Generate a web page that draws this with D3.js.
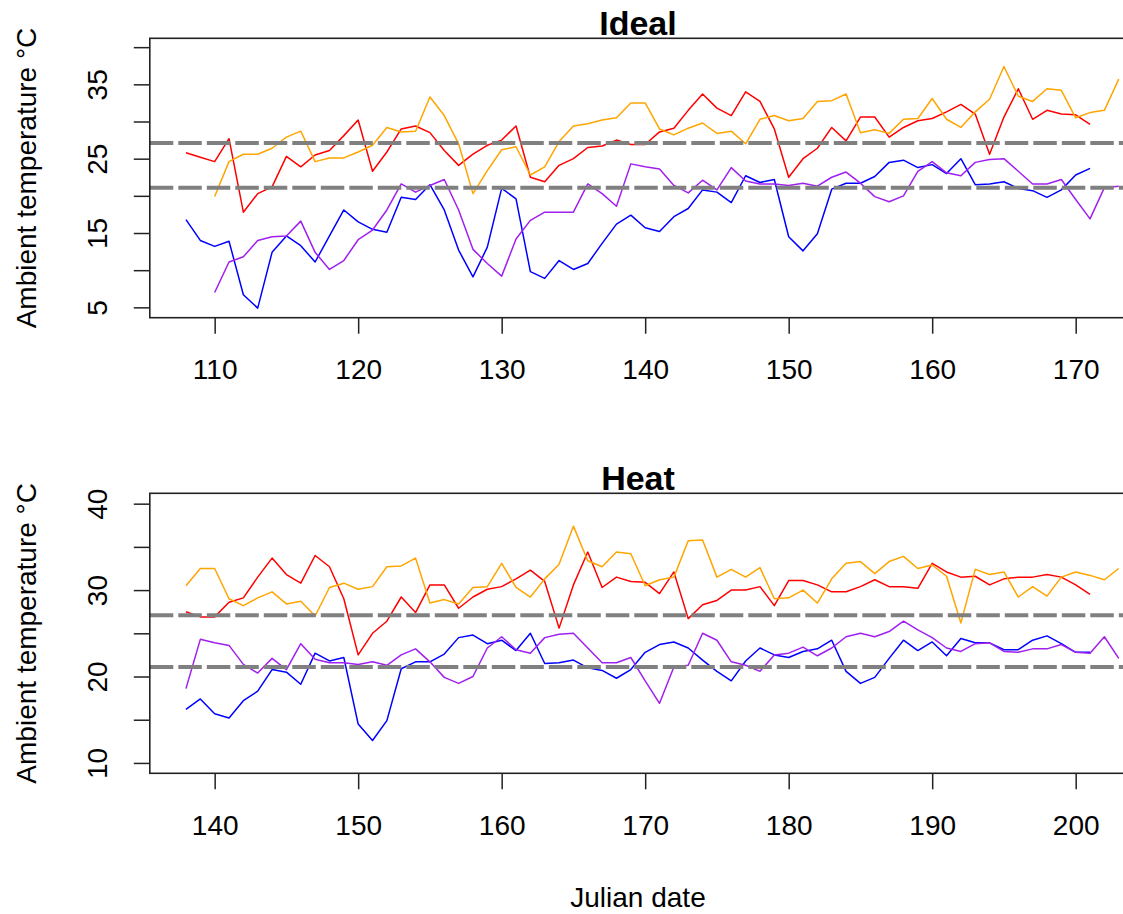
<!DOCTYPE html>
<html>
<head>
<meta charset="utf-8">
<script src="https://cdn.jsdelivr.net/npm/d3@7"></script>
<style>
  html, body { margin: 0; padding: 0; background: #fff; }
  svg { display: block; font-family: "Liberation Sans", Arial, sans-serif; }
</style>
</head>
<body>
<svg id="chart" width="1123" height="914"></svg>
<script>
// Daily ambient temperature (°C) per logger, by Julian date
const redStart = 108;
const redTemp = [
  25.8, 25.2, 24.6, 27.7, 17.8, 20.3, 21.2, 25.3, 23.9, 25.5,   // 108-117
  26.1, 28.1, 30.2, 23.3, 25.9, 29.0, 29.4, 28.5, 26.1, 24.1,   // 118-127
  25.6, 26.8, 27.5, 29.4, 22.5, 21.9, 24.1, 25.0, 26.5, 26.7,   // 128-137
  27.5, 26.9, 26.9, 28.6, 29.1, 31.5, 33.7, 31.8, 30.8, 34.0,   // 138-147
  32.7, 29.0, 22.5, 25.0, 26.4, 29.2, 27.4, 30.6, 30.6, 27.9,   // 148-157
  29.2, 30.1, 30.4, 31.3, 32.3, 31.0, 25.6, 30.6, 34.4, 30.3,   // 158-167
  31.5, 31.0, 30.9, 29.6, 32.1, 26.7, 28.3, 28.8, 30.0, 30.0,   // 168-177
  30.4, 28.2, 31.1, 31.1, 30.6, 29.8, 29.8, 30.4, 31.2, 30.4,   // 178-187
  30.4, 30.2, 33.1, 32.1, 31.5, 31.6, 30.6, 31.3, 31.5, 31.5,   // 188-197
  31.8, 31.5, 30.6, 29.5                                        // 198-201
];

const orangeStart = 110;
const orangeTemp = [
  19.9, 24.6, 25.6, 25.6, 26.4, 27.9, 28.7, 24.6, 25.1, 25.1,   // 110-119
  25.9, 26.8, 29.2, 28.6, 28.7, 33.3, 30.8, 27.0, 20.3, 23.4,   // 120-129
  26.2, 26.6, 22.8, 23.9, 27.3, 29.4, 29.7, 30.2, 30.5, 32.5,   // 130-139
  32.5, 29.0, 28.2, 29.1, 29.8, 28.4, 28.7, 27.0, 30.3, 30.8,   // 140-149
  30.1, 30.4, 32.7, 32.8, 33.7, 28.5, 28.9, 28.4, 30.3, 30.4,   // 150-159
  33.1, 30.3, 29.2, 31.3, 33.0, 37.4, 33.4, 32.7, 34.4, 34.2,   // 160-169
  30.5, 31.2, 31.5, 35.7, 35.8, 31.5, 32.4, 31.5, 32.6, 29.0,   // 170-179
  29.1, 30.0, 28.5, 31.3, 33.1, 33.3, 31.9, 33.3, 33.9, 32.5,   // 180-189
  32.9, 31.6, 26.2, 32.4, 31.8, 32.1, 29.2, 30.4, 29.3, 31.5,   // 190-199
  32.1, 31.7, 31.2, 32.5                                        // 200-203
];

const blueStart = 108;
const blueTemp = [
  16.8, 14.0, 13.2, 13.9, 6.7, 4.9, 12.4, 14.6, 13.3, 11.1,     // 108-117
  14.6, 18.1, 16.5, 15.5, 15.1, 19.8, 19.5, 21.5, 18.1, 12.7,   // 118-127
  9.1, 13.1, 21.0, 19.6, 9.8, 8.9, 11.3, 10.1, 10.9, 13.6,      // 128-137
  16.2, 17.4, 15.7, 15.2, 17.2, 18.3, 20.8, 20.5, 19.1, 22.7,   // 138-147
  21.8, 22.2, 14.5, 12.6, 14.9, 20.9, 21.7, 21.7, 22.6, 24.5,   // 148-157
  24.8, 23.8, 24.2, 23.0, 25.0, 21.5, 21.6, 21.9, 21.0, 20.7,   // 158-167
  19.8, 20.8, 22.8, 23.7, 24.0, 23.3, 21.9, 20.6, 19.5, 21.8,   // 168-177
  23.3, 22.5, 22.2, 22.9, 23.2, 24.2, 20.6, 19.2, 19.9, 22.1,   // 178-187
  24.2, 23.0, 24.0, 22.4, 24.4, 23.9, 23.9, 23.1, 23.1, 24.2,   // 188-197
  24.7, 23.8, 22.8, 22.8                                        // 198-201
];

const purpleStart = 110;
const purpleTemp = [
  7.0, 11.1, 11.8, 14.0, 14.5, 14.6, 16.6, 12.4, 10.1, 11.3,    // 110-119
  14.1, 15.4, 18.1, 21.6, 20.5, 21.4, 22.2, 18.1, 12.8, 10.9,   // 120-129
  9.2, 14.2, 16.7, 17.8, 17.8, 17.8, 21.6, 20.3, 18.6, 24.3,    // 130-139
  23.9, 23.6, 21.4, 20.4, 22.1, 20.8, 23.8, 22.0, 21.6, 21.6,   // 140-149
  21.4, 21.7, 21.3, 22.5, 23.2, 21.7, 19.9, 19.2, 20.0, 23.3,   // 150-159
  24.6, 23.1, 22.7, 24.5, 24.9, 25.0, 23.3, 21.6, 21.6, 22.2,   // 160-169
  19.5, 16.9, 21.1, 21.3, 25.0, 24.2, 21.7, 21.3, 20.6, 22.5,   // 170-179
  22.7, 23.4, 22.4, 23.3, 24.6, 25.0, 24.6, 25.2, 26.4, 25.4,   // 180-189
  24.5, 23.3, 22.9, 23.8, 23.9, 22.9, 22.8, 23.2, 23.2, 23.7,   // 190-199
  22.8, 22.7, 24.6, 22.1                                        // 200-203
];

// Reference temperatures drawn as dashed lines
const thresholds = [27.1, 21.1];

// Panels
const panelTitles = ["Ideal", "Heat"];
const panelDataRangeX = [[108, 171], [138, 201]];
const panelDataRangeY = [[5, 39.8], [10, 40]];
const panelXTicks = [[110, 120, 130, 140, 150, 160, 170], [140, 150, 160, 170, 180, 190, 200]];
const panelYTicks = [[5, 10, 15, 20, 25, 30, 35, 40], [10, 15, 20, 25, 30, 35, 40]];
const panelYLabels = [[5, 15, 25, 35], [10, 20, 30, 40]];
// Date window shown for each series in each panel: [red, orange, blue, purple]
const panelWindows = [
  [[108, 171], [110, 173], [108, 171], [110, 173]],
  [[138, 201], [138, 203], [138, 201], [138, 203]]
];

const seriesNames = ["red", "orange", "blue", "purple"];
const seriesColors = ["#ff0000", "#ffa500", "#0000ff", "#a020f0"];
const seriesStarts = [redStart, orangeStart, blueStart, purpleStart];
const seriesValues = [redTemp, orangeTemp, blueTemp, purpleTemp];

const yAxisTitle = "Ambient temperature °C";
const xAxisTitle = "Julian date";

// ---- layout ----
const svg = d3.select("#chart");
svg.append("rect").attr("width", 1123).attr("height", 914).attr("fill", "#fff");

const plotLeft = 149.8, plotRight = 1126.2;
const panelBands = [[38.3, 317.7], [493.3, 773.3]];
const fontSize = 28;
const tickLen = 16;

// R-style 4% axis padding
const pad = r => { const d = (r[1] - r[0]) * 0.04; return [r[0] - d, r[1] + d]; };

panelTitles.forEach((title, p) => {
  const [top, bottom] = panelBands[p];
  const x = d3.scaleLinear().domain(pad(panelDataRangeX[p])).range([plotLeft, plotRight]);
  const y = d3.scaleLinear().domain(pad(panelDataRangeY[p])).range([bottom, top]);

  const g = svg.append("g");
  const clipId = "clip" + p;
  g.append("clipPath").attr("id", clipId)
    .append("rect").attr("x", plotLeft).attr("y", top)
    .attr("width", plotRight - plotLeft).attr("height", bottom - top);

  const plot = g.append("g").attr("clip-path", `url(#${clipId})`);

  // temperature series
  const line = d3.line().x(d => x(d.day)).y(d => y(d.temp));
  seriesNames.forEach((name, s) => {
    const [from, to] = panelWindows[p][s];
    const pts = seriesValues[s]
      .map((v, i) => ({ day: seriesStarts[s] + i, temp: v }))
      .filter(d => d.day >= from && d.day <= to);
    plot.append("path")
      .datum(pts)
      .attr("class", "series-" + name)
      .attr("fill", "none")
      .attr("stroke", seriesColors[s])
      .attr("stroke-width", 1.5)
      .attr("stroke-linejoin", "round")
      .attr("d", line);
  });

  // dashed reference lines
  thresholds.forEach(t => {
    plot.append("line")
      .attr("x1", plotLeft).attr("x2", plotRight)
      .attr("y1", y(t)).attr("y2", y(t))
      .attr("stroke", "#808080")
      .attr("stroke-width", 4)
      .attr("stroke-dasharray", "23.5 5")
      .attr("stroke-dashoffset", 0);
  });

  // x axis
  const xAxis = d3.axisBottom(x).tickValues(panelXTicks[p]).tickSize(tickLen).tickSizeOuter(0)
    .tickFormat(d3.format("d"));
  const gx = g.append("g").attr("transform", `translate(0,${bottom})`).call(xAxis);
  gx.select(".domain").remove();
  gx.selectAll(".tick line").attr("stroke", "#222").attr("stroke-width", 1.5);
  gx.selectAll(".tick text")
    .attr("y", 61.5).attr("dy", null)
    .attr("fill", "#000")
    .style("font-size", fontSize + "px")
    .style("font-family", '"Liberation Sans", Arial, sans-serif');

  // y axis
  const labels = panelYLabels[p];
  const yAxis = d3.axisLeft(y).tickValues(panelYTicks[p]).tickSize(tickLen).tickSizeOuter(0)
    .tickFormat(d => labels.includes(d) ? String(d) : "");
  const gy = g.append("g").attr("transform", `translate(${plotLeft},0)`).call(yAxis);
  gy.select(".domain").remove();
  gy.selectAll(".tick line").attr("stroke", "#222").attr("stroke-width", 1.5);
  gy.selectAll(".tick text")
    .attr("x", 0).attr("y", -42.8).attr("dy", null)
    .attr("transform", "rotate(-90)")
    .attr("text-anchor", "middle")
    .attr("fill", "#000")
    .style("font-size", fontSize + "px")
    .style("font-family", '"Liberation Sans", Arial, sans-serif');

  // frame
  g.append("rect")
    .attr("x", plotLeft).attr("y", top)
    .attr("width", plotRight - plotLeft).attr("height", bottom - top)
    .attr("fill", "none").attr("stroke", "#222").attr("stroke-width", 1.6);

  // panel title
  g.append("text")
    .attr("x", (plotLeft + plotRight) / 2).attr("y", top - 3.5)
    .attr("text-anchor", "middle")
    .attr("font-weight", "bold")
    .attr("font-size", 34)
    .attr("fill", "#000")
    .text(title);

  // y axis title
  g.append("text")
    .attr("transform", `translate(36,${(top + bottom) / 2}) rotate(-90)`)
    .attr("text-anchor", "middle")
    .attr("font-size", fontSize)
    .attr("fill", "#000")
    .text(yAxisTitle);
});

// shared x axis title
svg.append("text")
  .attr("x", (plotLeft + plotRight) / 2).attr("y", 907)
  .attr("text-anchor", "middle")
  .attr("font-size", fontSize)
  .attr("fill", "#000")
  .text(xAxisTitle);
</script>
</body>
</html>
